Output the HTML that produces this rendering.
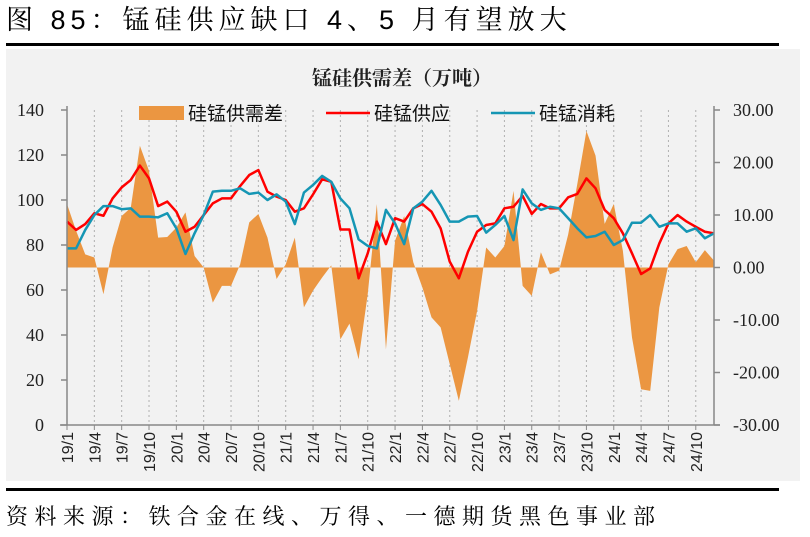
<!DOCTYPE html>
<html><head><meta charset="utf-8">
<style>
body{margin:0;width:810px;height:537px;background:#fff;overflow:hidden;position:relative;font-family:"Liberation Serif","Noto Serif CJK SC",serif;}
#title{position:absolute;left:6px;top:0px;font-size:27px;line-height:40px;color:#000;letter-spacing:5px;font-family:"Liberation Sans","Noto Serif CJK SC",serif;white-space:nowrap;}
.rule{position:absolute;left:6px;width:773px;height:3px;background:#000;}
#panel{position:absolute;left:6px;top:49px;width:794px;height:432px;background:#f2f2f2;}
#source{position:absolute;left:6px;top:500px;font-size:22px;line-height:34px;color:#000;letter-spacing:6.5px;white-space:nowrap;font-family:"Liberation Serif","Noto Serif CJK SC",serif;}
svg{position:absolute;left:0;top:0;}
</style></head><body>
<div id="title">图 85：锰硅供应缺口 4、5 月有望放大</div>
<div class="rule" style="top:43px"></div>
<div id="panel"></div>
<div class="rule" style="top:488px"></div>
<div id="source">资料来源：铁合金在线、万得、一德期货黑色事业部</div>
<svg id="chart" width="810" height="537"></svg>
<script>
const gapValues=[12.1,7.0,2.5,1.9,-5.1,3.8,9.8,11.4,23.2,18.4,5.7,5.8,7.6,10.5,2.2,0,-6.7,-3.5,-3.5,0.6,8.6,10.2,5.7,-2.2,0.6,5.7,-7.6,-4.4,-1.9,0.4,-13.7,-10.7,-17.5,-5.1,12.1,-15.6,5.1,9.8,1.0,-3.8,-9.5,-11.4,-18.4,-25.4,-17.1,-8.3,3.8,1.9,4.1,14.6,-3.5,-5.4,2.9,-1.3,-0.6,6.3,15.9,26.0,21.3,8.3,12.1,3.2,-13.3,-23.2,-23.5,-7.6,0.6,3.5,4.1,1.0,3.3,1.3];
const supplyValues=[90.4,86.7,89.3,94.1,93.0,100.7,105.6,108.9,115.3,109.6,97.3,99.3,94.8,85.9,88.1,93.3,98.5,100.7,100.7,106.2,111.1,113.3,103.7,101.5,100,94.8,96.3,102.5,109.2,108.1,86.9,86.9,65.2,76.3,90.4,80.4,91.9,90.4,96.3,98.2,94.8,87.4,72.6,65.2,77.0,85.9,88.9,89.6,96.3,97.0,101.8,93.8,98.2,96.3,96.3,101.2,102.7,109.6,105.2,95.6,91.9,85.2,76.3,67.1,69.6,80.7,89.6,93.3,90.4,88.1,85.9,85.2];
const consumeValues=[78.5,78.5,86.7,93.3,97.3,97.3,95.9,96.3,92.6,92.6,92.3,94.1,87.4,76.0,85.2,93.3,103.7,104.1,104.1,105.2,102.7,103.3,100,102.5,99.3,89.3,103.3,106.7,110.7,108.1,100.7,96.3,82.5,79.6,78.5,95.6,89.6,80.4,96.3,99.3,104.1,97.8,90.4,90.4,92.6,92.9,85.5,88.9,92.9,82.2,104.7,98.5,95.6,97.0,96.3,91.9,87.4,83.4,84.0,85.9,80.0,82.2,89.9,89.9,93.3,88.1,89.6,89.6,85.9,87.4,83.0,85.2];
const leftTicks=[0,20,40,60,80,100,120,140];
const rightTicks=["30.00","20.00","10.00","0.00","-10.00","-20.00","-30.00"];
const rightTickVals=[30,20,10,0,-10,-20,-30];
const categories=[];
for(let y=19;y<=24;y++)for(let m=1;m<=12;m++)categories.push(y+"/"+m);

const svg=document.getElementById('chart');
const NS="http://www.w3.org/2000/svg";
const X0=67,X1=714,YT=110,YB=425;
function xS(i){return X0+i*(X1-X0)/(categories.length-1);}
function yL(v){return YB-(v/140)*(YB-YT);}
function yR(v){return YB-((v+30)/60)*(YB-YT);}
function mk(tag,attrs,parent){const e=document.createElementNS(NS,tag);for(const k in attrs)e.setAttribute(k,attrs[k]);(parent||svg).appendChild(e);return e;}

categories.forEach((c,i)=>{
 if(i%3===0&&i>0){const g=mk('line',{x1:xS(i),x2:xS(i),y1:YT,y2:YB,stroke:'#b0b0b0','stroke-width':1,'stroke-dasharray':'2,3'});
 
 }
});
let d='M'+xS(0)+','+yR(0);
gapValues.forEach((v,i)=>{d+=' L'+xS(i)+','+yR(v);});
d+=' L'+xS(gapValues.length-1)+','+yR(0)+' Z';
const area=mk('path',{d:d,fill:'#eb9641'});


function line(vals,color,name){
 const p=mk('polyline',{points:vals.map((v,i)=>xS(i)+','+yL(v)).join(' '),fill:'none',stroke:color,'stroke-width':2.5,'stroke-linejoin':'round'});
 
 
}
line(supplyValues,'#ff0000','supply-line');
line(consumeValues,'#1596b4','consumption-line');
const la=mk('line',{x1:X0,x2:X0,y1:YT-4,y2:YB,stroke:'#888','stroke-width':1.5});


const ra=mk('line',{x1:X1,x2:X1,y1:YT-4,y2:YB,stroke:'#888','stroke-width':1.5});


const ba=mk('line',{x1:X0-7,x2:X1+6,y1:YB,y2:YB,stroke:'#888','stroke-width':1.5});


leftTicks.forEach(v=>{
 mk('line',{x1:X0-6,x2:X0,y1:yL(v),y2:yL(v),stroke:'#888','stroke-width':1.5});
 const t=mk('text',{x:44,y:yL(v)+6,'text-anchor':'end','font-size':18,fill:'#222','font-family':'Liberation Serif, serif'});
 t.textContent=v;
 
 
});
rightTickVals.forEach((v,i)=>{
 mk('line',{x1:X1,x2:X1+6,y1:yR(v),y2:yR(v),stroke:'#888','stroke-width':1.5});
 const t=mk('text',{x:733,y:yR(v)+6,'font-size':18,fill:'#222','font-family':'Liberation Serif, serif'});
 t.textContent=rightTicks[i];
 
 
});
categories.forEach((c,i)=>{
 if(i%3!==0)return;
 mk('line',{x1:xS(i),x2:xS(i),y1:YB,y2:YB+5,stroke:'#888','stroke-width':1});
 const t=mk('text',{x:0,y:0,'text-anchor':'end','font-size':16,fill:'#222','font-family':'Liberation Sans, sans-serif',transform:'translate('+(xS(i)+6)+','+(YB+7)+') rotate(-90)'});
 t.textContent=c;
 
 
});
const ct=mk('text',{x:402,y:85,'text-anchor':'middle','font-size':20,'font-weight':'bold',fill:'#222','font-family':'Liberation Serif, Noto Serif CJK SC, serif'});
ct.textContent='锰硅供需差（万吨）';


const lg=mk('g',{});


mk('rect',{x:139,y:106,width:45,height:14,fill:'#eb9641'},lg);
mk('line',{x1:326,x2:370,y1:113,y2:113,stroke:'#ff0000','stroke-width':2.5},lg);
mk('line',{x1:491,x2:535,y1:113,y2:113,stroke:'#1596b4','stroke-width':2.5},lg);
[['硅锰供需差',188],['硅锰供应',374],['硅锰消耗',539]].forEach(a=>{
 const t=mk('text',{x:a[1],y:120,'font-size':19,fill:'#111','font-family':'Liberation Sans, Noto Sans CJK SC, sans-serif'},lg);
 t.textContent=a[0];
 
 
});
</script>
</body></html>
